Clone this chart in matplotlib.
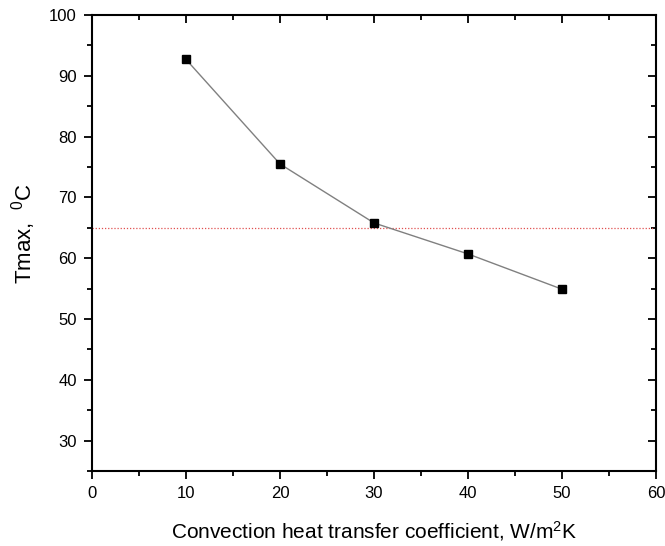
import matplotlib.pyplot as plt
from matplotlib.ticker import MultipleLocator

# convection coefficient (W/m2K) vs maximum temperature (C)
h_values = [10, 20, 30, 40, 50]
t_max = [92.7, 75.5, 65.8, 60.7, 54.9]
t_limit = 65.0

plt.rcParams['font.family'] = ['Liberation Sans', 'DejaVu Sans']
plt.rcParams['mathtext.fontset'] = 'custom'
plt.rcParams['mathtext.rm'] = 'Liberation Sans'
plt.rcParams['mathtext.it'] = 'Liberation Sans'

fig = plt.figure(figsize=(6.65, 5.46), dpi=100)
ax = fig.add_axes([0.1383, 0.1374, 0.8482, 0.8351])

ax.axhline(t_limit, color='#e05050', ls=(0, (1, 1.5)), lw=0.9)
ax.plot(h_values, t_max, color='#808080', lw=1.0, marker='s', markersize=6,
        markerfacecolor='black', markeredgecolor='black', zorder=3)

ax.set_xlim(0, 60)
ax.set_ylim(25, 100)
ax.xaxis.set_major_locator(MultipleLocator(10))
ax.xaxis.set_minor_locator(MultipleLocator(5))
ax.yaxis.set_major_locator(MultipleLocator(10))
ax.yaxis.set_minor_locator(MultipleLocator(5))
ax.set_yticks([30, 40, 50, 60, 70, 80, 90, 100])

for s in ax.spines.values():
    s.set_linewidth(1.5)
ax.tick_params(which='both', direction='out', width=1.3, labelsize=12, color='black')
ax.tick_params(which='major', length=6, pad=5)
ax.tick_params(which='minor', length=3.5)
ax.tick_params(which='both', top=True, right=True)

# inward ticks on top and right
for t in ax.xaxis.get_major_ticks() + ax.xaxis.get_minor_ticks():
    t.tick2line.set_marker(3)
for t in ax.yaxis.get_major_ticks() + ax.yaxis.get_minor_ticks():
    t.tick2line.set_marker(0)

ax.set_xlabel(r'Convection heat transfer coefficient, W/m$^2$K', fontsize=15)
ax.set_ylabel(r'Tmax,  $^0$C', fontsize=16)
ax.xaxis.set_label_coords(0.5, -0.105)
ax.yaxis.set_label_coords(-0.095, 0.52)

plt.savefig('out.png', dpi=100)
